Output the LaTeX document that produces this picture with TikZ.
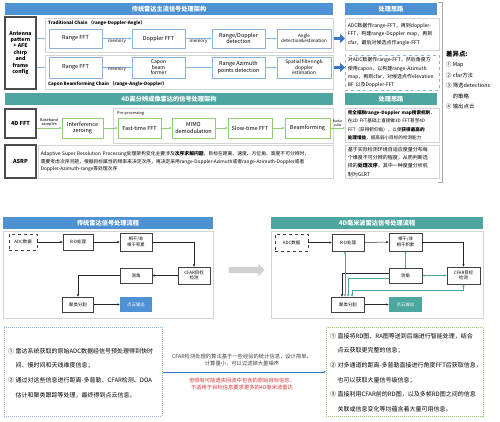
\documentclass[tikz,border=0pt]{standalone}
\usepackage{fontspec}
\setmainfont{Noto Sans CJK SC}
\usetikzlibrary{arrows.meta,shapes.arrows}

\definecolor{azulbarra}{RGB}{79,146,212}
\definecolor{verdeagua}{RGB}{78,166,160}
\definecolor{azulcaixa}{RGB}{140,178,222}
\definecolor{verdecaixa}{RGB}{146,204,116}
\definecolor{cinzapainel}{RGB}{212,212,212}
\definecolor{vermelho}{RGB}{222,52,52}
\definecolor{cinzaseta}{RGB}{208,208,208}
\definecolor{azulseta}{RGB}{56,118,198}
\definecolor{verdepont}{RGB}{150,200,110}

\newcommand\tamTit{\fontsize{6.2}{7}\selectfont\bfseries}
\newcommand\tamCx{\fontsize{5.5}{6.4}\selectfont}
\newcommand\tamPq{\fontsize{4.5}{5.4}\selectfont}
\newcommand\tamMn{\fontsize{3.9}{4.4}\selectfont}
\newcommand\tamTx{\fontsize{5}{8.3}\selectfont}
\newcommand\tamAs{\fontsize{4.8}{7.6}\selectfont}
\newcommand\tamFl{\fontsize{4.4}{5.4}\selectfont}
\newcommand\tamLs{\fontsize{5.4}{10.5}\selectfont}
\newcommand\tamGr{\fontsize{6}{14.6}\selectfont}
\newcommand\tamMd{\fontsize{5.3}{6.6}\selectfont}

\tikzset{
	barra/.style={rectangle, inner sep=0pt, text=white, font=\tamTit},
	rotulo/.style={rectangle, draw=black!70, line width=1.1pt, align=center, inner sep=0pt, font=\tamCx\bfseries},
	painel/.style={rectangle, draw=cinzapainel, line width=0.6pt, inner sep=0pt},
	cadeia/.style={rectangle, draw=azulcaixa, line width=0.7pt, fill=white, align=center, inner sep=0pt, font=\tamCx},
	etapa/.style={rectangle, draw=verdecaixa, line width=0.7pt, fill=white, align=center, inner sep=0pt, minimum height=20, font=\tamCx},
	ideia/.style={rectangle, draw=cinzapainel, line width=0.6pt, align=left, anchor=north west, inner xsep=2.5pt, inner ysep=1pt, font=\tamTx},
	fluxo/.style={rectangle, draw=black!75, line width=0.75pt, fill=white, align=center, inner sep=0pt, font=\tamFl},
	liga/.style={->, draw=azulcaixa, line width=0.5pt},
	ligaverde/.style={->, draw=verdecaixa, line width=0.6pt},
	seta/.style={->, draw=black!85, line width=0.5pt},
	setaverde/.style={->, draw=verdeagua, line width=0.6pt},
	bloco/.style={-{Triangle[length=5pt,width=9pt]}, draw=azulseta, line width=3pt},
	texto/.style={inner sep=0pt, align=left, anchor=north west}
}

\begin{document}
\begin{tikzpicture}[x=1pt, y=-1pt, >={Triangle[length=2.2pt,width=2pt]}]
	\useasboundingbox (0,0) rectangle (500,422);

% arquitetura tradicional
	\node[barra, fill=azulbarra, minimum width=328, minimum height=12] (tit1) at (169,9) {传统雷达主流信号处理架构};
	\node[barra, fill=azulbarra, minimum width=92, minimum height=12] (cab1) at (391,9) {处理思路};
	\node[rotulo, minimum width=31, minimum height=72, font=\fontsize{5.2}{6.4}\selectfont\bfseries] (ant) at (20.5,53) {Antenna\\pattern\\+ AFE\\chirp\\and\\frame\\config};

	\node[painel, minimum width=288, minimum height=34, anchor=north west] (pn1) at (45,18) {};
	\node[texto, anchor=west, font=\tamPq\bfseries] (nm1) at (48,23.5) {Traditional Chain （range-Doppler-Angle）};
	\node[cadeia, minimum width=53, minimum height=19] (t1) at (75.5,38.5) {Range FFT};
	\node[cadeia, minimum width=53, minimum height=19] (t2) at (158.5,38.5) {Doppler FFT};
	\node[cadeia, minimum width=53, minimum height=19] (t3) at (238.5,38.5) {Range/Doppler\\detection};
	\node[cadeia, minimum width=54, minimum height=19, font=\tamPq] (t4) at (304,38.5) {Angle\\detection\&estimation};

	\node[painel, minimum width=288, minimum height=34, anchor=north west] (pn2) at (45,55) {};
	\node[texto, anchor=west, font=\tamPq\bfseries] (nm2) at (48,84.5) {Capon Beamforming Chain （range-Angle-Doppler）};
	\node[cadeia, minimum width=53, minimum height=21] (c1) at (75.5,67.5) {Range FFT};
	\node[cadeia, minimum width=53, minimum height=21, font=\fontsize{5}{5.6}\selectfont] (c2) at (158.5,67.5) {Capon\\beam\\former};
	\node[cadeia, minimum width=53, minimum height=21] (c3) at (238.5,67.5) {Range Azimuth\\points detection};
	\node[cadeia, minimum width=54, minimum height=21, font=\fontsize{4.8}{5.5}\selectfont] (c4) at (304,67.5) {Spatial filtering\&\\doppler\\estimation};

	\draw[liga] (ant.east |- t1) -- (pn1.west |- t1);
	\draw[liga] (ant.east |- c1) -- (pn2.west |- c1);
	\draw[liga] (t1) -- node[below, inner sep=1pt, font=\tamPq] (m1) {memory} (t2);
	\draw[liga] (t2) -- node[below, inner sep=1pt, font=\tamPq] (m2) {memory} (t3);
	\draw[liga] (c1) -- node[below, inner sep=0.5pt, font=\tamPq] (m3) {memory} (c2);
	\foreach \a/\b in {t3/t4, c2/c3, c3/c4}
		\draw[liga] (\a) -- (\b);

	\node[ideia, minimum width=94, minimum height=32, text width=89] (id1) at (345,18) {ADC数据作range-FFT，再到doppler-\\FFT，构建range-Doppler map，再到\\cfar，最后对候选点作angle-FFT};
	\node[ideia, draw=azulcaixa, dashed, minimum width=94, minimum height=35, text width=89] (id2) at (345,55) {对ADC数据作range-FFT，然后角度方\\使用capon，以构建range-Azimuth\\map，再到cfar，对候选点作elevation\\BF 以及Doppler-FFT};
	\draw[bloco] (pn1.east |- t4) -- (id1.west |- t4);
	\draw[bloco] (pn2.east |- c4) -- (id2.west |- c4);

% diferencas
	\draw[gray!70, line width=0.6pt] (438,2) -- (442,2) -- (442,182) -- (438,182);
	\node[texto, font=\fontsize{6.4}{7}\selectfont\bfseries] (dif) at (446,50.5) {差异点:};
	\node[texto, font=\tamLs] (difl) at (446,62) {① Map\\② cfar方法\\③ 筛选detections\\\phantom{③ }的策略\\④ 输出点云};

% arquitetura 4D
	\node[barra, fill=verdeagua, minimum width=328, minimum height=12] (tit2) at (169,99) {4D高分辨成像雷达的信号处理架构};
	\node[barra, fill=verdeagua, minimum width=92, minimum height=12] (cab2) at (391,99) {处理思路};
	\node[rotulo, minimum width=31, minimum height=29] (fft4d) at (20.5,123.5) {4D FFT};
	\node[rotulo, minimum width=31, minimum height=33] (asrp) at (20.5,161.5) {ASRP};

	\node[painel, minimum width=220, minimum height=35, anchor=north west] (pn3) at (113,108) {};
	\node[texto, anchor=west, font=\tamMn] (pre) at (117,113) {Pre-processing};
	\node[etapa, minimum width=41] (iz) at (82.5,128) {Interference\\zeroing};
	\node[etapa, minimum width=43] (e1) at (139.5,128) {Fast-time FFT};
	\node[etapa, minimum width=43] (e2) at (193.5,128) {MIMO\\demodulation};
	\node[etapa, minimum width=44] (e3) at (250,128) {Slow-time FFT};
	\node[etapa, minimum width=45] (e4) at (307.5,128) {Beamforming};

	\node[ideia, font=\fontsize{4.6}{8.2}\selectfont, minimum width=94, minimum height=34, text width=89] (id3) at (345,108) {\textbf{完全摆脱range-Doppler map搜索机制}，\\在2D FFT基础上直接做3D FFT甚至4D\\FFT（获得俯仰角），以便\textbf{获得最高的}\\\textbf{处理增益}，提高弱小目标的检测能力};

	\draw[ligaverde] (fft4d.east |- iz) -- node[above, inner sep=1pt, align=center, font=\tamMn] (bb) {Baseband\\samples} (iz);
	\foreach \a/\b in {iz/e1, e1/e2, e2/e3, e3/e4}
		\draw[ligaverde] (\a) -- (\b);
	\draw[ligaverde] (e4) -- node[above, inner sep=1pt, align=center, font=\fontsize{3.4}{3.9}\selectfont] (rc) {Radar\\cube} (id3.west |- e4);

	\node[ideia, font=\tamAs, minimum width=295, minimum height=33, text width=290] (txa) at (38,145) {Adaptive Super Resolution Processing处理架构变化主要涉及\textbf{次序求解问题}，目标在距离、速度、方位角、高度不可分辨时，\\需要考虑次序问题，根据目标属性的频率来决定次序，再决定采用range-Doppler-Azimuth或者range-Azimuth-Doppler或者\\Doppler-Azimuth-range等处理次序};
	\node[ideia, minimum width=94, minimum height=33, text width=89] (id4) at (345,145) {基于实际检测环境自适应度量分布每\\个维度不可分辨的程度，从而判断选\\择的\textbf{处理次序}，其中一种度量分析机\\制为GLRT};

% fluxo tradicional
	\node[barra, fill=azulbarra, minimum width=210, minimum height=12] (tit3) at (108,223) {传统雷达信号处理流程};
	\node[painel, minimum width=210, minimum height=87, anchor=north west] (pn4) at (3,231) {};
	\node[fluxo, dashed, minimum width=28, minimum height=16] (adcE) at (23,242) {ADC数据};
	\node[fluxo, minimum width=30, minimum height=16] (rdE) at (78,242) {R-D处理};
	\node[fluxo, minimum width=32, minimum height=18] (acE) at (136,242) {相干/非\\相干积累};
	\node[fluxo, minimum width=32, minimum height=17] (cfE) at (194,275.5) {CFAR目标\\检测};
	\node[fluxo, minimum width=32, minimum height=15] (anE) at (136,275.5) {测角};
	\node[fluxo, minimum width=31, minimum height=15] (clE) at (78,304.5) {聚类分割};
	\node[fluxo, draw=none, fill=azulbarra, text=white, minimum width=32, minimum height=15] (ptE) at (136,304.5) {点云输出};
	\draw[seta] (adcE) -- (rdE);
	\draw[seta] (rdE) -- (acE);
	\draw[seta] (acE) -| (cfE);
	\draw[seta] (cfE) -- (anE);
	\draw[seta] (anE) -| (clE);
	\draw[seta] (clE) -- (ptE);

	\node[single arrow, fill=cinzaseta, draw=none, inner sep=3pt, single arrow head extend=3pt, minimum height=36] (meio) at (245,270) {};

% fluxo 4D
	\node[barra, fill=verdeagua, minimum width=212, minimum height=12] (tit4) at (377,223) {4D毫米波雷达信号处理流程};
	\node[painel, minimum width=212, minimum height=87, anchor=north west] (pn5) at (271,231) {};
	\node[fluxo, dashed, minimum width=33, minimum height=17] (adcD) at (291.5,242.5) {ADC数据};
	\node[fluxo, minimum width=32, minimum height=17] (rdD) at (348,242.5) {R-D处理};
	\node[fluxo, minimum width=33, minimum height=18] (acD) at (405.5,242) {相干/非\\相干积累};
	\node[fluxo, minimum width=33, minimum height=15] (anD) at (405.5,275.5) {测角};
	\node[fluxo, minimum width=33, minimum height=17] (cfD) at (463.5,275.5) {CFAR目标\\检测};
	\node[fluxo, minimum width=33, minimum height=15] (clD) at (348,304.5) {聚类分割};
	\node[fluxo, draw=none, fill=verdeagua, text=white, minimum width=33, minimum height=15] (ptD) at (405.5,304.5) {点云输出};
	\coordinate (dobra) at (cfD.south |- 0,290);
	\draw[seta] (adcD) -- (rdD);
	\draw[seta] (rdD) -- (acD);
	\draw[seta] (acD) -| (cfD);
	\draw[seta] ([yshift=2.5]anD.west) -| ([xshift=-6]clD.north);
	\draw[seta] (clD) -- (ptD);
	\draw[setaverde, <->] ([xshift=-3]clD.north) -- ([xshift=-3]rdD.south);
	\draw[setaverde] ([yshift=-2.5]anD.west) -| (clD.north);
	\draw[setaverde] (anD) -- (acD);
	\draw[setaverde, <->] (anD) -- (cfD);
	\draw[setaverde, <->] (cfD.south) -- (dobra) -| ([xshift=4]clD.north);

% textos de baixo
	\node[rectangle, draw=azulcaixa, line width=0.7pt, dash pattern=on 1pt off 1pt, minimum width=158, minimum height=89, anchor=north west] (txE) at (4,327) {};
	\node[texto, font=\tamGr] (itE) at (8,348) {① 雷达系统获取的原始ADC数据经信号预处理得到快时\\\phantom{① }间、慢时间和天线维度信息；\\② 通过对这些信息进行距离-多普勒、CFAR检测、DOA\\\phantom{① }估计和聚类跟踪等处理，最终得到点云信息。};
	\node[rectangle, draw=verdepont, line width=0.7pt, dash pattern=on 1pt off 1pt, minimum width=157, minimum height=89, anchor=north west] (txD) at (326,327) {};
	\node[texto, font=\tamGr] (itD) at (330,333) {① 直接将RD图、RA图等送到后端进行智能处理，结合\\\phantom{① }点云获取更完整的信息；\\② 对多通道的距离-多普勒直接进行角度FFT后获取信息，\\\phantom{① }也可以获取大量信号级信息；\\③ 直接利用CFAR前的RD图，以及多帧RD图之间的信息\\\phantom{① }关联或信息变化等均蕴含着大量可用信息。};

	\node[font=\tamMd, align=center, text=black!75, inner sep=0pt] (cf1) at (242,360) {CFAR检测处理的算法基于一些经验的统计信息，设计简单、\\计算量小，可以过滤掉大量噪声};
	\node[font=\tamMd, align=center, text=vermelho, inner sep=0pt] (cf2) at (242,384) {但很有可能遗失回波中包含的原始目标信息，\\不适用于目标信息要求更多的4D毫米波雷达};
	\draw[->, draw=azulseta, line width=0.6pt] (txE) -- (txD);
\end{tikzpicture}
\end{document}
